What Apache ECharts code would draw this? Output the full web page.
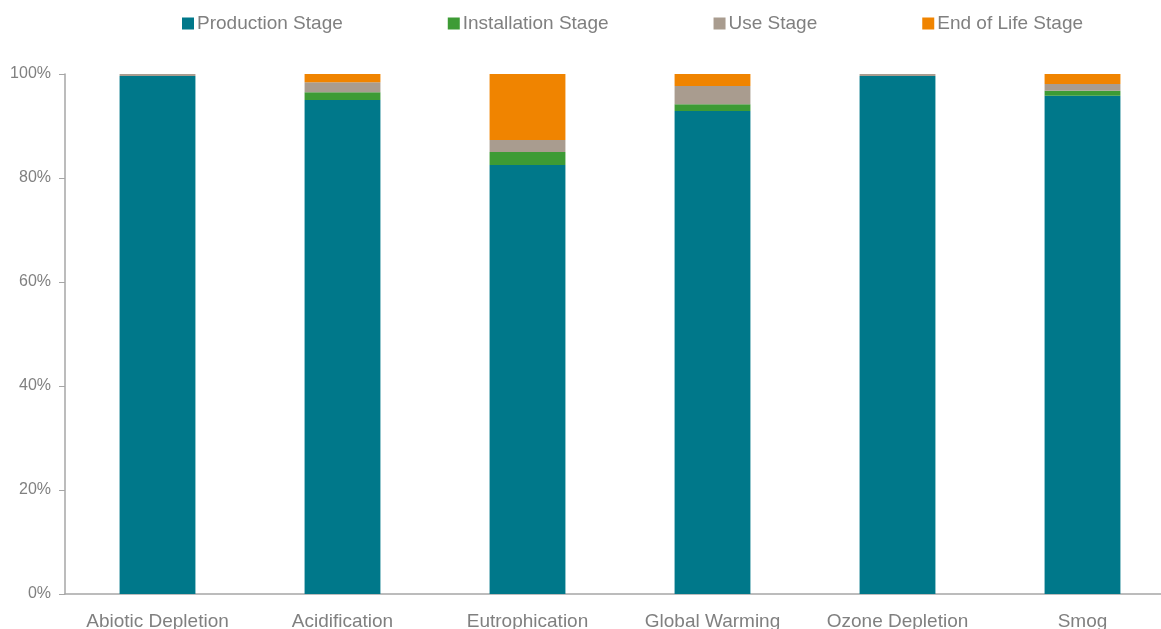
<!DOCTYPE html>
<html>
<head>
<meta charset="utf-8">
<script src="https://cdn.jsdelivr.net/npm/echarts@6/dist/echarts.min.js"></script>
<style>html,body{margin:0;padding:0;background:#fff}#c{width:1161px;height:629px}</style>
</head>
<body>
<div id="c"></div>
<script>
const categories = ['Abiotic Depletion', 'Acidification', 'Eutrophication', 'Global Warming', 'Ozone Depletion', 'Smog'];
const production = [99.6, 95.0, 82.5, 92.9, 99.6, 95.8];
const installation = [0.0, 1.5, 2.5, 1.3, 0.0, 1.0];
const useStage = [0.4, 1.9, 2.3, 3.5, 0.4, 1.3];
const endOfLife = [0.0, 1.6, 12.7, 2.3, 0.0, 1.9];
const seriesNames = ['Production Stage', 'Installation Stage', 'Use Stage', 'End of Life Stage'];
const colors = ['#00788A', '#3D9B35', '#A99C8F', '#F08400'];

const font = 'Liberation Sans';
const textColor = '#808080';
const dataSets = [production, installation, useStage, endOfLife];

const chart = echarts.init(document.getElementById('c'), null, {renderer: 'canvas'});
chart.setOption({
  animation: false,
  color: colors,
  legend: {
    top: 9,
    left: 177,
    itemWidth: 12,
    itemHeight: 12,
    itemGap: 105,
    icon: 'rect',
    textStyle: {color: textColor, fontSize: 19, fontFamily: font, padding: [0, 0, 0, -2]},
    data: seriesNames
  },
  grid: {left: 65, width: 1110, top: 74, bottom: 35, outerBoundsMode: 'none', containLabel: false},
  xAxis: {
    type: 'category',
    data: categories,
    axisLine: {lineStyle: {color: '#A6A6A6', width: 1.5}},
    axisTick: {length: 5, lineStyle: {color: '#A6A6A6'}},
    axisLabel: {color: textColor, fontSize: 19, fontFamily: font, margin: 18, interval: 0, hideOverlap: false}
  },
  yAxis: {
    type: 'value',
    min: 0,
    max: 100,
    interval: 20,
    splitLine: {show: false},
    axisLine: {show: true, lineStyle: {color: '#A6A6A6', width: 1.5}},
    axisTick: {show: true, length: 6, lineStyle: {color: '#A6A6A6'}},
    axisLabel: {color: textColor, fontSize: 16, fontFamily: font, margin: 14, formatter: '{value}%'}
  },
  series: seriesNames.map((n, i) => ({
    name: n,
    type: 'bar',
    stack: 'total',
    barWidth: '41%',
    data: dataSets[i]
  }))
});
</script>
</body>
</html>
